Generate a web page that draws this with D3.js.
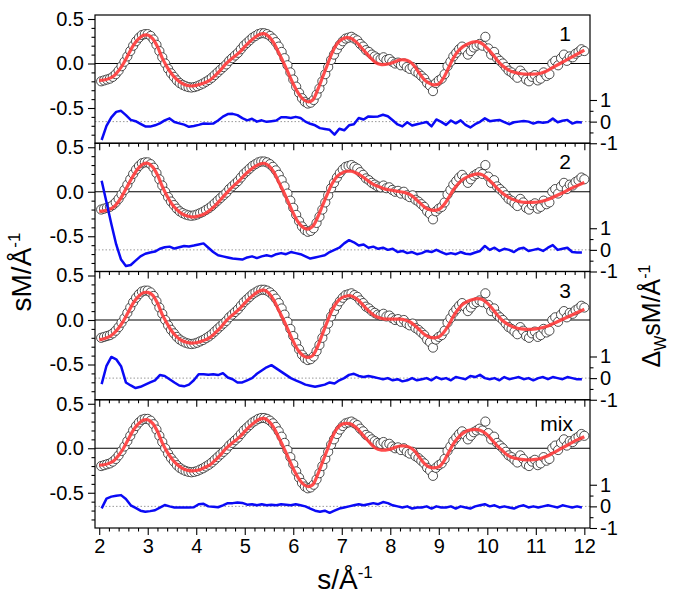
<!DOCTYPE html>
<html><head><meta charset="utf-8">
<script src="https://cdn.jsdelivr.net/npm/d3@7"></script>
<style>
html,body{margin:0;padding:0;background:#fff;}
text{font-family:"Liberation Sans",Arial,sans-serif;fill:#000;}
</style></head>
<body><svg id="chart" width="678" height="608"></svg>
<script>
// ---------- DATA ----------
const panelLabels = ["1", "2", "3", "mix"];
const xTicks = [2,3,4,5,6,7,8,9,10,11,12];
const yTicksLeft = [-0.5, 0.0, 0.5];
const yTicksRight = [-1, 0, 1];

// experimental sM (circles), s = 2.04 .. 12.00 step 0.06
const sData = d3.range(167).map(i => +(2.04 + 0.06*i).toFixed(2));
const sMObs = [
-0.20,-0.19,-0.18,-0.17,-0.15,-0.12,-0.08,-0.03,0.02,0.08,
0.14,0.20,0.25,0.29,0.32,0.33,0.33,0.31,0.27,0.21,
0.14,0.07,0.00,-0.06,-0.11,-0.15,-0.19,-0.22,-0.24,-0.255,
-0.265,-0.27,-0.265,-0.255,-0.24,-0.225,-0.205,-0.185,-0.16,-0.13,
-0.10,-0.07,-0.04,-0.01,0.03,0.06,0.09,0.12,0.16,0.20,
0.23,0.26,0.29,0.31,0.33,0.34,0.34,0.33,0.31,0.28,
0.24,0.19,0.13,0.06,-0.02,-0.10,-0.18,-0.26,-0.33,-0.39,
-0.43,-0.45,-0.44,-0.41,-0.35,-0.28,-0.20,-0.12,-0.04,0.04,
0.10,0.16,0.21,0.25,0.28,0.29,0.30,0.28,0.26,0.22,
0.19,0.15,0.13,0.10,0.08,0.06,0.05,0.07,0.04,0.05,
0.02,0.00,0.01,-0.02,0.00,-0.04,-0.06,-0.04,-0.09,-0.11,
-0.14,-0.17,-0.22,-0.25,-0.31,-0.22,-0.19,-0.17,-0.12,-0.03,
0.02,0.08,0.12,0.16,0.19,0.15,0.10,0.14,0.18,0.20,
0.22,0.20,0.30,0.17,0.10,0.13,0.06,0.03,0.00,-0.04,
-0.08,-0.10,-0.13,-0.16,-0.08,-0.12,-0.18,-0.20,-0.15,-0.13,
-0.19,-0.17,-0.10,-0.14,-0.12,0.00,0.03,-0.02,0.06,0.10,
0.03,0.08,0.07,0.11,0.13,0.16,0.14
];

// fitted curves, s = 2.0 .. 12.0 step 0.1
const sFit = d3.range(101).map(i => +(2.0 + 0.1*i).toFixed(1));
const fit1 = [
-0.19,-0.185,-0.17,-0.14,-0.08,0.00,0.10,0.20,0.27,0.315,
0.32,0.28,0.19,0.06,-0.04,-0.12,-0.18,-0.22,-0.245,-0.253,
-0.245,-0.23,-0.21,-0.18,-0.13,-0.075,-0.01,0.04,0.085,0.13,
0.19,0.245,0.29,0.325,0.335,0.30,0.23,0.12,0.01,-0.11,
-0.23,-0.33,-0.40,-0.43,-0.41,-0.30,-0.16,-0.02,0.12,0.22,
0.27,0.29,0.28,0.24,0.18,0.12,0.06,0.01,-0.01,-0.01,
0.00,0.02,0.04,0.04,0.02,-0.03,-0.11,-0.18,-0.22,-0.24,
-0.23,-0.16,-0.05,0.06,0.14,0.19,0.22,0.24,0.245,0.22,
0.17,0.11,0.04,-0.02,-0.06,-0.09,-0.105,-0.115,-0.12,-0.12,
-0.118,-0.11,-0.09,-0.06,-0.03,0.00,0.03,0.06,0.09,0.12,
0.15];
const fit2 = [
-0.22,-0.215,-0.20,-0.17,-0.11,-0.02,0.08,0.18,0.26,0.31,
0.32,0.28,0.19,0.06,-0.05,-0.14,-0.20,-0.245,-0.27,-0.283,
-0.28,-0.265,-0.24,-0.20,-0.15,-0.09,-0.03,0.03,0.08,0.13,
0.19,0.24,0.28,0.31,0.32,0.29,0.22,0.11,0.00,-0.12,
-0.24,-0.34,-0.40,-0.42,-0.39,-0.29,-0.16,-0.03,0.09,0.17,
0.21,0.23,0.23,0.21,0.18,0.14,0.10,0.07,0.05,0.03,
0.02,0.01,0.00,-0.01,-0.03,-0.07,-0.12,-0.17,-0.20,-0.21,
-0.20,-0.15,-0.07,0.02,0.09,0.14,0.17,0.19,0.20,0.19,
0.15,0.10,0.04,-0.01,-0.05,-0.08,-0.10,-0.115,-0.12,-0.12,
-0.118,-0.11,-0.095,-0.075,-0.05,-0.025,0.00,0.03,0.055,0.08,
0.105];
const fit3 = [
-0.22,-0.21,-0.19,-0.15,-0.09,-0.01,0.09,0.19,0.26,0.305,
0.31,0.28,0.19,0.06,-0.04,-0.13,-0.19,-0.23,-0.25,-0.26,
-0.255,-0.24,-0.22,-0.19,-0.14,-0.085,-0.02,0.035,0.08,0.13,
0.19,0.245,0.29,0.325,0.335,0.30,0.22,0.11,0.00,-0.12,
-0.24,-0.34,-0.40,-0.42,-0.40,-0.30,-0.16,-0.02,0.11,0.20,
0.25,0.27,0.27,0.24,0.19,0.13,0.08,0.04,0.02,0.01,
0.01,0.01,0.01,0.00,-0.02,-0.06,-0.11,-0.16,-0.19,-0.20,
-0.19,-0.14,-0.06,0.04,0.12,0.18,0.21,0.23,0.24,0.23,
0.19,0.13,0.06,0.00,-0.04,-0.07,-0.09,-0.10,-0.105,-0.105,
-0.10,-0.09,-0.075,-0.055,-0.03,-0.005,0.02,0.045,0.07,0.095,
0.12];
const fit4 = [
-0.19,-0.185,-0.17,-0.14,-0.08,0.00,0.10,0.20,0.27,0.315,
0.32,0.28,0.19,0.06,-0.04,-0.12,-0.18,-0.22,-0.245,-0.255,
-0.25,-0.235,-0.21,-0.18,-0.13,-0.075,-0.01,0.04,0.085,0.13,
0.19,0.245,0.29,0.325,0.335,0.30,0.23,0.12,0.01,-0.11,
-0.23,-0.33,-0.40,-0.43,-0.41,-0.30,-0.16,-0.02,0.12,0.22,
0.27,0.28,0.27,0.23,0.17,0.11,0.05,0.00,-0.02,-0.02,
-0.01,0.01,0.025,0.025,0.01,-0.03,-0.10,-0.17,-0.21,-0.22,
-0.21,-0.15,-0.05,0.05,0.12,0.17,0.20,0.21,0.21,0.19,
0.15,0.09,0.03,-0.02,-0.07,-0.10,-0.115,-0.125,-0.13,-0.13,
-0.125,-0.115,-0.095,-0.07,-0.04,-0.01,0.02,0.05,0.08,0.105,
0.13];

// residuals (right axis), s = 2.05 .. 11.95 step 0.1
const sRes = d3.range(100).map(i => +(2.05 + 0.1*i).toFixed(2));
const res1 = [
-0.85,-0.2,0.2,0.45,0.5,0.3,0.08,0.02,-0.1,-0.22,
-0.23,-0.17,-0.08,0.06,0.15,-0.02,-0.08,-0.14,-0.24,-0.2,
-0.15,-0.09,-0.1,-0.09,0.05,0.23,0.35,0.36,0.3,0.16,
0.06,0.13,0.0,0.06,-0.01,0.02,0.05,0.2,0.2,0.17,
0.22,0.17,0.0,-0.1,-0.17,-0.3,-0.34,-0.38,-0.6,-0.33,
-0.4,-0.17,-0.12,0.17,0.1,0.24,0.22,0.24,0.32,0.25,
0.06,-0.13,-0.22,-0.03,-0.18,-0.12,-0.07,-0.02,-0.22,0.1,
-0.01,-0.15,0.05,-0.08,0.06,-0.15,-0.27,-0.12,-0.01,0.15,
0.02,0.05,0.08,-0.02,-0.12,-0.03,0.0,0.03,0.0,-0.09,
-0.02,-0.05,-0.02,0.14,-0.03,0.04,0.08,-0.09,-0.02,-0.04];
const res2 = [
3.2,2.2,1.2,0.25,-0.45,-0.75,-0.7,-0.5,-0.3,-0.18,
-0.12,-0.08,0.05,0.12,0.15,0.06,0.12,0.18,0.16,0.2,
0.25,0.3,0.1,-0.1,-0.25,-0.3,-0.35,-0.4,-0.42,-0.45,
-0.35,-0.3,-0.38,-0.3,-0.25,-0.3,-0.2,-0.15,-0.2,-0.1,
-0.15,-0.2,-0.3,-0.4,-0.35,-0.3,-0.25,-0.1,0.0,0.1,
0.3,0.45,0.35,0.2,0.25,0.1,0.15,0.05,0.1,0.0,
0.05,-0.1,-0.05,-0.15,-0.1,-0.2,-0.15,-0.05,-0.1,0.0,
-0.1,-0.2,-0.15,-0.2,-0.1,-0.18,-0.2,-0.12,-0.05,0.18,
0.0,0.1,-0.05,0.05,0.0,-0.1,0.05,0.1,-0.05,0.0,
0.05,-0.05,0.1,0.22,0.0,0.05,0.1,-0.1,-0.12,-0.12];
const res3 = [
-0.28,0.57,0.98,0.87,0.55,-0.2,-0.34,-0.46,-0.4,-0.3,
-0.2,-0.1,0.14,0.1,-0.05,-0.2,-0.34,-0.38,-0.3,-0.1,
0.18,0.18,0.16,0.18,0.14,0.23,0.03,-0.05,-0.2,-0.2,
-0.1,0.0,0.2,0.35,0.5,0.6,0.45,0.3,0.15,0.0,
-0.1,-0.2,-0.3,-0.35,-0.4,-0.35,-0.3,-0.2,-0.25,-0.1,
0.0,0.15,0.2,0.1,0.05,0.1,0.05,0.0,-0.05,0.0,
-0.1,-0.05,-0.15,-0.1,0.0,-0.1,-0.05,0.0,-0.1,0.05,
-0.05,0.0,-0.1,0.05,0.0,-0.05,0.1,0.05,0.15,0.0,
-0.05,0.0,-0.1,0.05,-0.05,0.0,0.05,-0.05,0.0,-0.1,
0.0,0.05,-0.05,0.05,0.0,-0.05,0.05,0.0,-0.05,-0.05];
const res4 = [
-0.09,0.36,0.45,0.49,0.52,0.34,0.05,-0.07,-0.2,-0.25,
-0.22,-0.18,-0.06,0.06,0.0,-0.05,-0.05,-0.05,-0.05,-0.04,
0.1,0.12,0.0,-0.02,-0.04,0.05,0.15,0.15,0.18,0.16,
0.08,0.1,0.05,0.1,0.05,0.08,0.05,0.1,0.08,0.05,
0.1,0.05,0.0,-0.1,-0.2,-0.25,-0.2,-0.3,-0.2,-0.1,
-0.05,0.0,0.05,0.1,0.05,0.1,0.15,0.1,0.2,0.15,
0.05,0.0,-0.05,0.0,-0.1,-0.05,-0.05,0.0,-0.1,0.0,
-0.05,-0.05,0.0,-0.1,0.0,-0.05,-0.1,0.0,0.05,0.1,
0.0,0.05,-0.05,0.0,-0.05,-0.1,0.0,0.05,-0.05,0.0,
-0.05,0.0,0.05,0.0,-0.05,0.05,0.0,-0.05,0.0,-0.05];

const fits = [fit1, fit2, fit3, fit4];
const residuals = [res1, res2, res3, res4];

// ---------- LAYOUT ----------
const svg = d3.select("#chart");
const plotL = 95, plotR = 590, top0 = 15, panelH = 128.25;
const x = d3.scaleLinear().domain([1.913, 12.117]).range([plotL, plotR]);
const yL = d3.scaleLinear().domain([-0.896, 0.545]).range([panelH, 0]);
const yR = d3.scaleLinear().domain([-1, 4.93]).range([panelH, 0]);

const xMinor = d3.range(1.8, 12.21, 0.2).map(v => +v.toFixed(1)).filter(v => v >= 1.95 && v <= 12.1 && Math.abs(v - Math.round(v)) > 0.01);
const yMinorL = d3.range(-8, 6).map(v => v/10).filter(v => Math.abs(v*2 - Math.round(v*2)) > 0.01);
const yMinorR = [-0.5, 0.5];
const fmtMinus = f => d => f(d).replace("−", "-");

panelLabels.forEach((lab, k) => {
  const g = svg.append("g").attr("transform", `translate(0,${top0 + k*panelH})`);
  const clipId = "clip" + k;
  g.append("clipPath").attr("id", clipId).append("rect")
    .attr("x", plotL).attr("y", 0).attr("width", plotR - plotL).attr("height", panelH);

  const inner = g.append("g").attr("clip-path", `url(#${clipId})`);
  inner.append("line").attr("x1", plotL).attr("x2", plotR)
    .attr("y1", yL(0)).attr("y2", yL(0)).attr("stroke", "#000").attr("stroke-width", 1.2);
  inner.append("line").attr("x1", plotL).attr("x2", plotR)
    .attr("y1", yR(0)).attr("y2", yR(0)).attr("stroke", "#999").attr("stroke-width", 1)
    .attr("stroke-dasharray", "1.5,2");
  inner.selectAll("circle").data(sData).join("circle")
    .attr("cx", d => x(d)).attr("cy", (d, i) => yL(sMObs[i])).attr("r", 4.6)
    .attr("fill", "#fff").attr("stroke", "#222").attr("stroke-width", 0.8);
  inner.append("path").datum(sFit.map((s, i) => [s, fits[k][i]]))
    .attr("fill", "none").attr("stroke", "#ff3a3a").attr("stroke-opacity", 0.9).attr("stroke-width", 3.2)
    .attr("d", d3.line().x(d => x(d[0])).y(d => yL(d[1])).curve(d3.curveCatmullRom));
  inner.append("path").datum(sRes.map((s, i) => [s, residuals[k][i]]))
    .attr("fill", "none").attr("stroke", "#0a0af5").attr("stroke-width", 2.5).attr("stroke-linejoin", "round")
    .attr("d", d3.line().x(d => x(d[0])).y(d => yR(d[1])));

  g.append("rect").attr("x", plotL).attr("y", 0).attr("width", plotR - plotL).attr("height", panelH)
    .attr("fill", "none").attr("stroke", "#000").attr("stroke-width", 1.2);

  // left axis
  const la = g.append("g").attr("transform", `translate(${plotL},0)`)
    .call(d3.axisLeft(yL).tickValues(yTicksLeft).tickSize(7).tickFormat(fmtMinus(d3.format(".1f"))));
  la.select(".domain").remove();
  la.selectAll("text").style("font-size", "20px").attr("x", -11);
  g.append("g").attr("transform", `translate(${plotL},0)`)
    .call(d3.axisLeft(yL).tickValues(yMinorL).tickSize(3.5).tickFormat(""))
    .select(".domain").remove();

  // right axis
  const ra = g.append("g").attr("transform", `translate(${plotR},0)`)
    .call(d3.axisRight(yR).tickValues(yTicksRight).tickSize(7).tickFormat(fmtMinus(d3.format("d"))));
  ra.select(".domain").remove();
  ra.selectAll("text").style("font-size", "20px").attr("x", 10);
  g.append("g").attr("transform", `translate(${plotR},0)`)
    .call(d3.axisRight(yR).tickValues(yMinorR).tickSize(3.5).tickFormat(""))
    .select(".domain").remove();

  // bottom axis
  const ba = g.append("g").attr("transform", `translate(0,${panelH})`)
    .call(d3.axisBottom(x).tickValues(xTicks).tickSize(7).tickFormat(k === 3 ? d3.format("d") : ""));
  ba.select(".domain").remove();
  ba.selectAll("text").style("font-size", "20px").attr("y", 11);
  g.append("g").attr("transform", `translate(0,${panelH})`)
    .call(d3.axisBottom(x).tickValues(xMinor).tickSize(3.5).tickFormat(""))
    .select(".domain").remove();

  svg.selectAll(".tick line").attr("stroke", "#000").attr("stroke-width", 1.1);

  g.append("text").attr("x", lab === "mix" ? 573 : 571).attr("y", lab === "mix" ? 31 : 26)
    .attr("text-anchor", "end").style("font-size", "21px").text(lab);
});

// axis titles
const left = svg.append("text").attr("transform", "translate(31,272) rotate(-90)")
  .attr("text-anchor", "middle").style("font-size", "28px");
left.append("tspan").text("sM/Å");
left.append("tspan").attr("dy", -11).style("font-size", "17px").text("-1");

const right = svg.append("text").attr("transform", "translate(660,316) rotate(-90)")
  .attr("text-anchor", "middle").style("font-size", "25px");
right.append("tspan").text("Δ");
right.append("tspan").attr("dy", 6).style("font-size", "16px").text("W");
right.append("tspan").attr("dy", -6).text("sM/Å");
right.append("tspan").attr("dy", -10).style("font-size", "16px").text("-1");

const bottom = svg.append("text").attr("x", 345).attr("y", 589)
  .attr("text-anchor", "middle").style("font-size", "28px");
bottom.append("tspan").text("s/Å");
bottom.append("tspan").attr("dy", -11).style("font-size", "17px").text("-1");
</script></body></html>
